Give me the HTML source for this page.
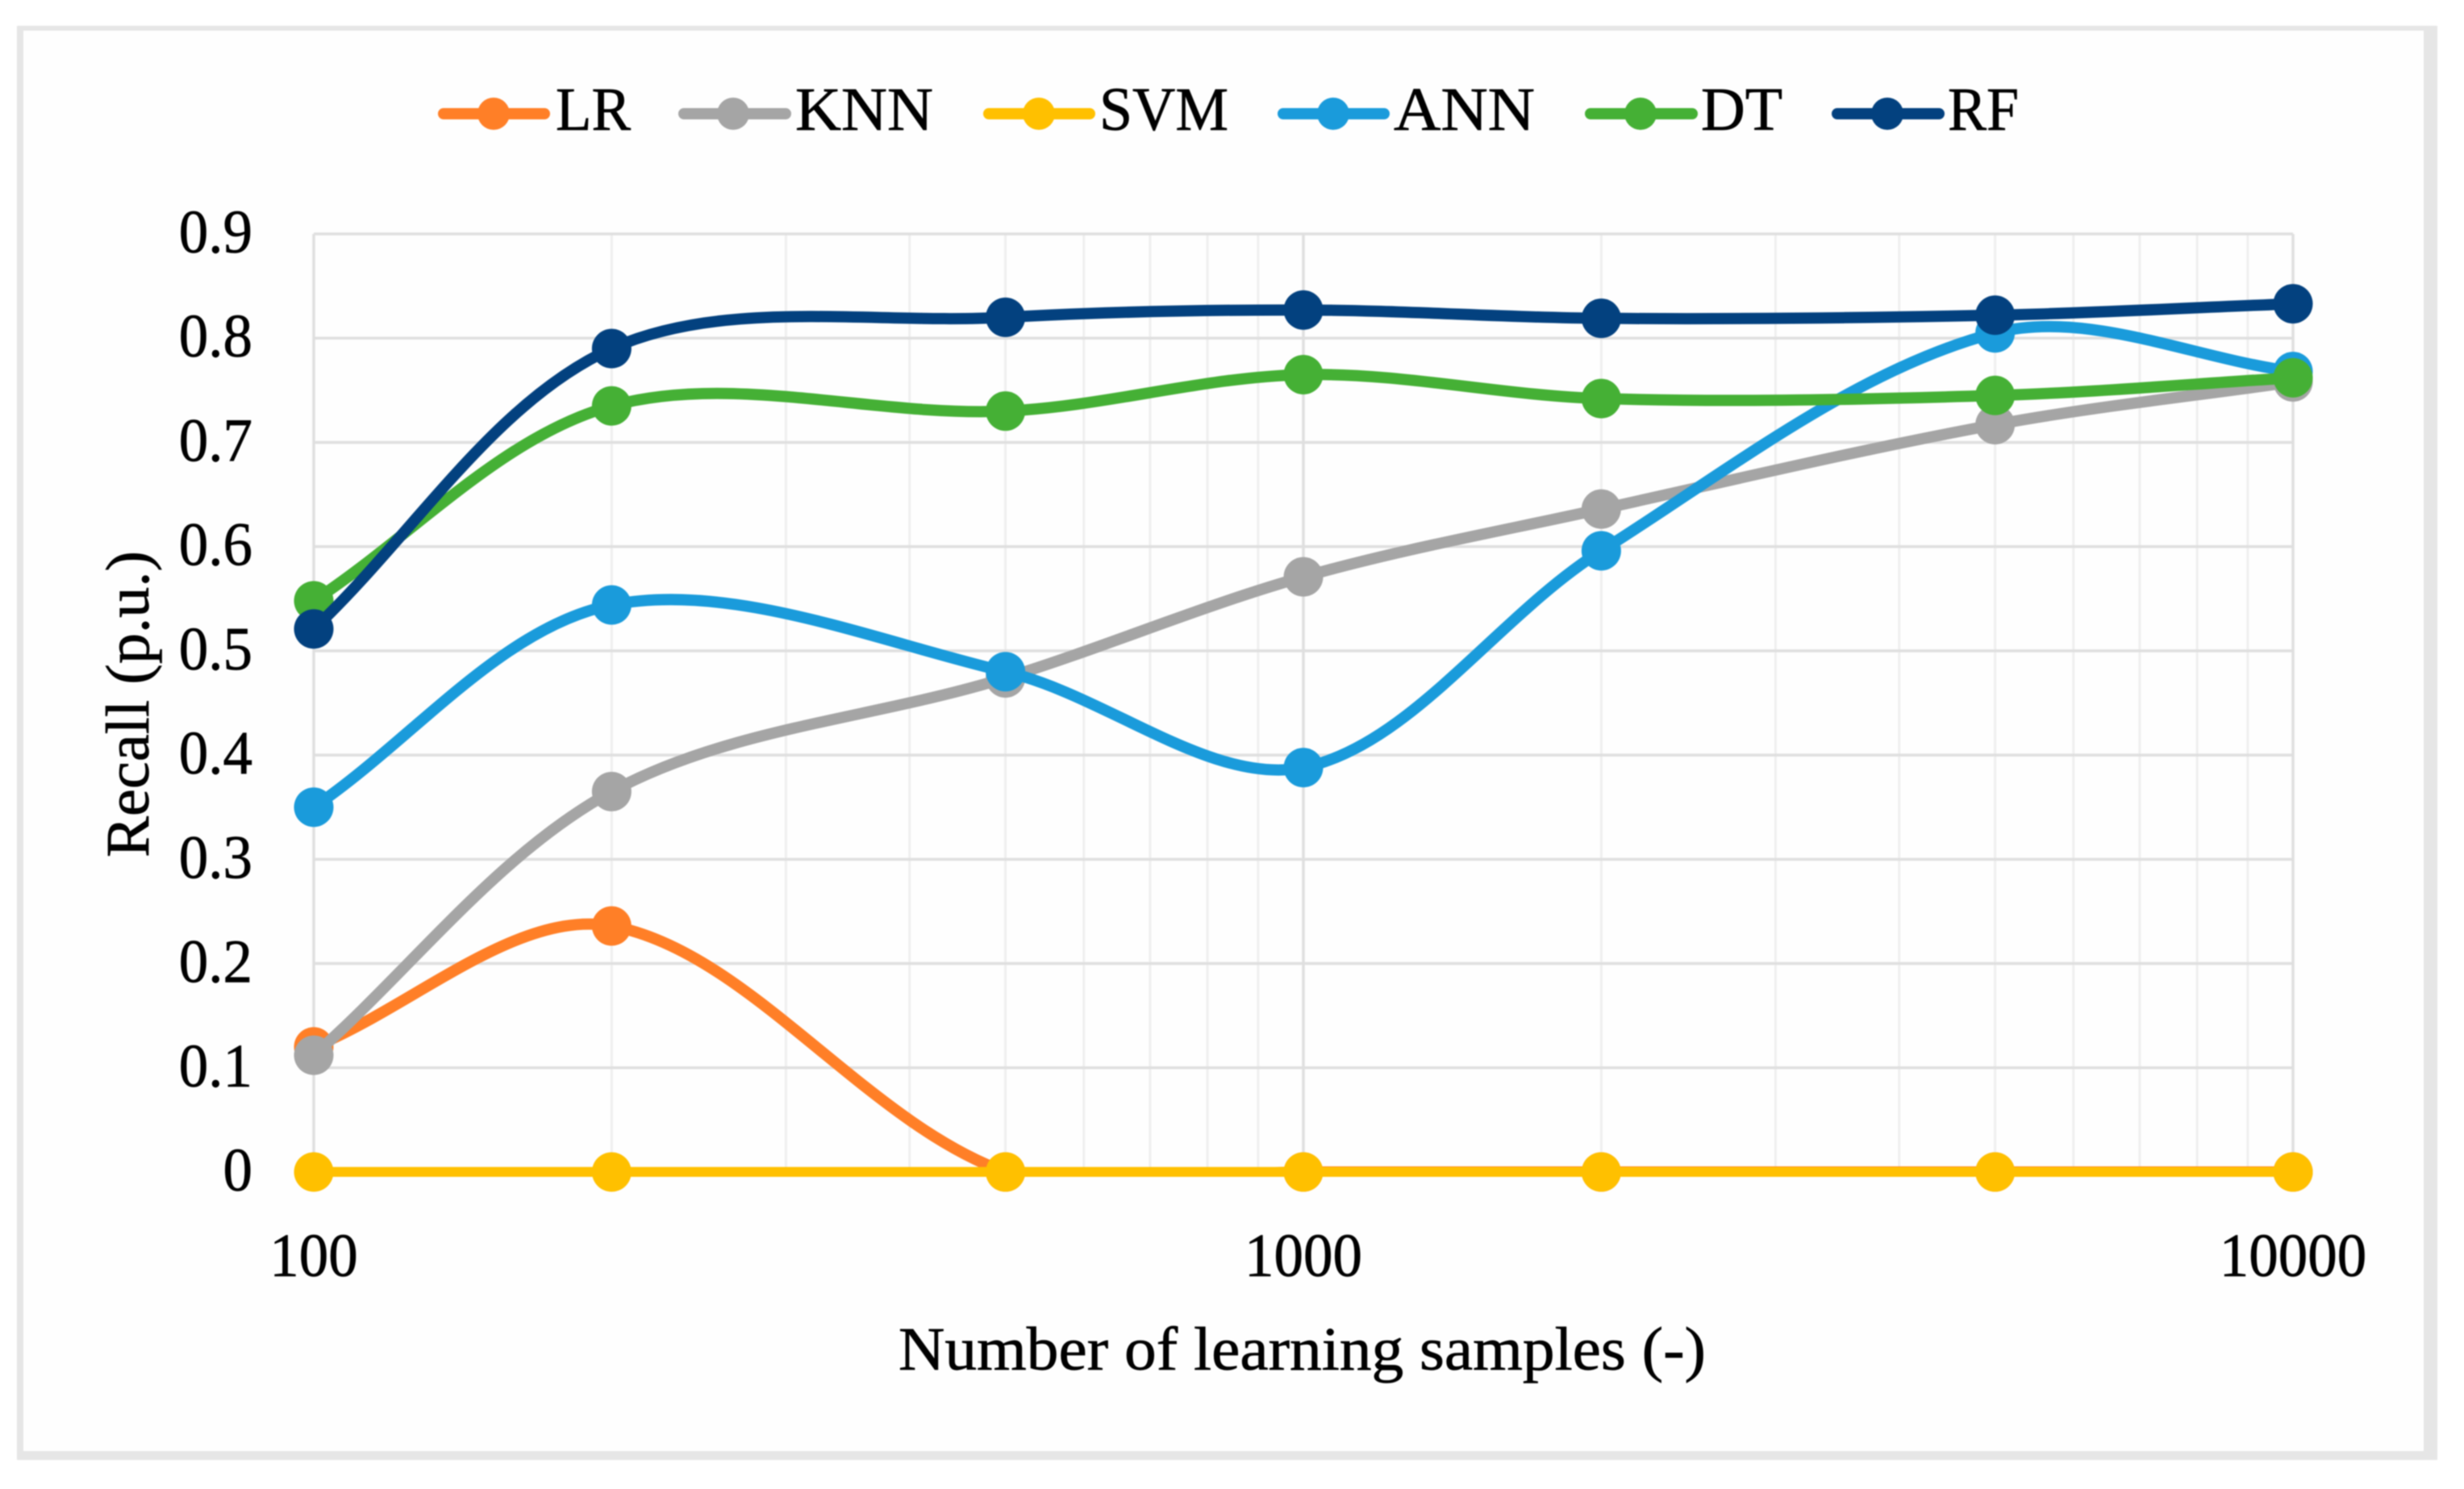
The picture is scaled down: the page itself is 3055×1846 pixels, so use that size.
<!DOCTYPE html>
<html lang="en">
<head>
<meta charset="utf-8">
<title>Recall vs number of learning samples</title>
<style>
  html,body{margin:0;padding:0;background:#fff;}
  body{width:3055px;height:1846px;overflow:hidden;}
  svg{display:block;filter:blur(0.7px);}
  text{font-family:"Liberation Serif","DejaVu Serif",serif;font-size:76px;fill:#000;stroke:#000;stroke-width:0.7px;}
</style>
</head>
<body>
<svg id="chart" xmlns="http://www.w3.org/2000/svg" width="3055" height="1846" viewBox="0 0 3055 1846">
  <defs><clipPath id="plot-clip"><rect id="plot-clip-rect" x="0" y="0" width="3055" height="1459"/></clipPath></defs>
  <rect x="0" y="0" width="3055" height="1846" fill="#ffffff"/>
  <rect x="21" y="32" width="3001" height="1778" fill="#e6e6e6"/>
  <rect x="29" y="38" width="2976" height="1761" fill="#fefefe"/>
  <g id="grid"></g>
  <g id="series"></g>
  <g id="ticks"></g>

  <text x="1114" y="1698" textLength="1001" lengthAdjust="spacingAndGlyphs">Number of learning samples (-)</text>
  <text transform="translate(184,1063) rotate(-90)" textLength="380" lengthAdjust="spacingAndGlyphs">Recall (p.u.)</text>

  <g stroke-linecap="round">
    <g>
      <line x1="550" x2="675" y1="141" y2="141" stroke="#ff7f27" stroke-width="14"/><circle cx="612" cy="141" r="20" fill="#ff7f27"/>
      <text x="689" y="161" textLength="93" lengthAdjust="spacingAndGlyphs">LR</text>
    </g>
    <g>
      <line x1="848" x2="974" y1="141" y2="141" stroke="#a5a5a5" stroke-width="14"/><circle cx="909" cy="141" r="20" fill="#a5a5a5"/>
      <text x="986" y="161" textLength="171" lengthAdjust="spacingAndGlyphs">KNN</text>
    </g>
    <g>
      <line x1="1226" x2="1351" y1="141" y2="141" stroke="#ffc000" stroke-width="14"/><circle cx="1288" cy="141" r="20" fill="#ffc000"/>
      <text x="1363" y="161" textLength="160" lengthAdjust="spacingAndGlyphs">SVM</text>
    </g>
    <g>
      <line x1="1591" x2="1716" y1="141" y2="141" stroke="#1a9bdb" stroke-width="14"/><circle cx="1653" cy="141" r="20" fill="#1a9bdb"/>
      <text x="1728" y="161" textLength="175" lengthAdjust="spacingAndGlyphs">ANN</text>
    </g>
    <g>
      <line x1="1972" x2="2098" y1="141" y2="141" stroke="#45b035" stroke-width="14"/><circle cx="2034" cy="141" r="20" fill="#45b035"/>
      <text x="2109" y="161" textLength="101" lengthAdjust="spacingAndGlyphs">DT</text>
    </g>
    <g>
      <line x1="2278" x2="2404" y1="141" y2="141" stroke="#03417f" stroke-width="14"/><circle cx="2340" cy="141" r="20" fill="#03417f"/>
      <text x="2415" y="161" textLength="88" lengthAdjust="spacingAndGlyphs">RF</text>
    </g>
  </g>
</svg>
<script>
// Chart data
const sampleCounts = [100, 200, 500, 1000, 2000, 5000, 10000];
const lrValues  = [0.120, 0.236, 0.000, 0.000, 0.000, 0.000, 0.000];
const knnValues = [0.112, 0.365, 0.474, 0.571, 0.636, 0.717, 0.758];
const svmValues = [0.000, 0.000, 0.000, 0.000, 0.000, 0.000, 0.000];
const annValues = [0.350, 0.544, 0.480, 0.388, 0.596, 0.805, 0.768];
const dtValues  = [0.548, 0.735, 0.730, 0.765, 0.742, 0.745, 0.762];
const rfValues  = [0.521, 0.790, 0.820, 0.827, 0.819, 0.822, 0.833];
const yTickValues = [0, 0.1, 0.2, 0.3, 0.4, 0.5, 0.6, 0.7, 0.8, 0.9];
const yTickLabels = ["0", "0.1", "0.2", "0.3", "0.4", "0.5", "0.6", "0.7", "0.8", "0.9"];
const xTickValues = [100, 1000, 10000];
const xTickLabels = ["100", "1000", "10000"];
const seriesNames = ["lr", "knn", "svm", "ann", "dt", "rf"];
const seriesColors = ["#ff7f27", "#a5a5a5", "#ffc000", "#1a9bdb", "#45b035", "#03417f"];
const seriesValues = [lrValues, knnValues, svmValues, annValues, dtValues, rfValues];

const NS = "http://www.w3.org/2000/svg";
const plotLeft = 389, plotRight = 2843, plotTop = 290, plotBottom = 1453;
const xMin = 100, xMax = 10000, yMin = 0, yMax = 0.9;

function xScale(v) {
  return plotLeft + (Math.log10(v) - Math.log10(xMin)) / (Math.log10(xMax) - Math.log10(xMin)) * (plotRight - plotLeft);
}
function yScale(v) {
  return plotBottom - (v - yMin) / (yMax - yMin) * (plotBottom - plotTop);
}
function make(tag, attrs, parent) {
  const el = document.createElementNS(NS, tag);
  for (const k in attrs) el.setAttribute(k, attrs[k]);
  parent.appendChild(el);
  return el;
}

// Grid
const grid = document.getElementById("grid");
for (let decade = xMin; decade < xMax; decade *= 10) {
  for (let m = 2; m <= 9; m++) {
    const gx = xScale(decade * m);
    const minor = make("line", {x1: gx, x2: gx, y1: plotTop, y2: plotBottom, stroke: "#efefef", "stroke-width": 3}, grid);
    
    
  }
}
xTickValues.forEach(function (v) {
  const gx = xScale(v);
  const major = make("line", {x1: gx, x2: gx, y1: plotTop, y2: plotBottom, stroke: "#dfdfdf", "stroke-width": 3.5}, grid);
  
  
});
yTickValues.forEach(function (v) {
  const gy = yScale(v);
  const hline = make("line", {x1: plotLeft, x2: plotRight, y1: gy, y2: gy, stroke: "#dfdfdf", "stroke-width": 3.5}, grid);
  
  
});

// Tick labels
const ticks = document.getElementById("ticks");
yTickValues.forEach(function (v, i) {
  const t = make("text", {transform: "translate(313," + (yScale(v) + 23) + ") scale(0.96,1)", "text-anchor": "end"}, ticks);
  t.textContent = yTickLabels[i];
  
  
});
xTickValues.forEach(function (v, i) {
  const t = make("text", {transform: "translate(" + xScale(v) + ",1582) scale(0.96,1)", "text-anchor": "middle"}, ticks);
  t.textContent = xTickLabels[i];
  
  
});

// Smoothed path (spreadsheet-style cubic smoothing through the points)
function smoothPath(pts) {
  let d = "M" + pts[0][0] + " " + pts[0][1];
  for (let i = 0; i < pts.length - 1; i++) {
    const p0 = pts[i === 0 ? 0 : i - 1], p1 = pts[i], p2 = pts[i + 1], p3 = pts[i + 2 < pts.length ? i + 2 : i + 1];
    const d1 = Math.hypot(p1[0] - p0[0], p1[1] - p0[1]);
    const d2 = Math.hypot(p2[0] - p1[0], p2[1] - p1[1]);
    const d3 = Math.hypot(p3[0] - p2[0], p3[1] - p2[1]);
    const a = d1 + d2 > 0 ? d2 / (d1 + d2) : 0.5;
    const b = d2 + d3 > 0 ? d2 / (d2 + d3) : 0.5;
    const c1x = p1[0] + (p2[0] - p0[0]) * a / 3, c1y = p1[1] + (p2[1] - p0[1]) * a / 3;
    const c2x = p2[0] - (p3[0] - p1[0]) * b / 3, c2y = p2[1] - (p3[1] - p1[1]) * b / 3;
    d += "C" + c1x + " " + c1y + " " + c2x + " " + c2y + " " + p2[0] + " " + p2[1];
  }
  return d;
}

// Series
const seriesLayer = document.getElementById("series");
seriesValues.forEach(function (values, s) {
  const color = seriesColors[s];
  const g = make("g", {}, seriesLayer);
  
  
  const pts = values.map(function (v, i) { return [xScale(sampleCounts[i]), yScale(v)]; });
  const width = seriesNames[s] === "svm" ? 12.5 : 14;
  const path = make("path", {d: smoothPath(pts), fill: "none", stroke: color, "stroke-width": width, "stroke-linecap": "round", "stroke-linejoin": "round", "clip-path": "url(#plot-clip)"}, g);
  
  
  pts.forEach(function (p) {
    const c = make("circle", {cx: p[0], cy: p[1], r: 24.5, fill: color}, g);
    
    
  });
});
</script>
</body>
</html>
